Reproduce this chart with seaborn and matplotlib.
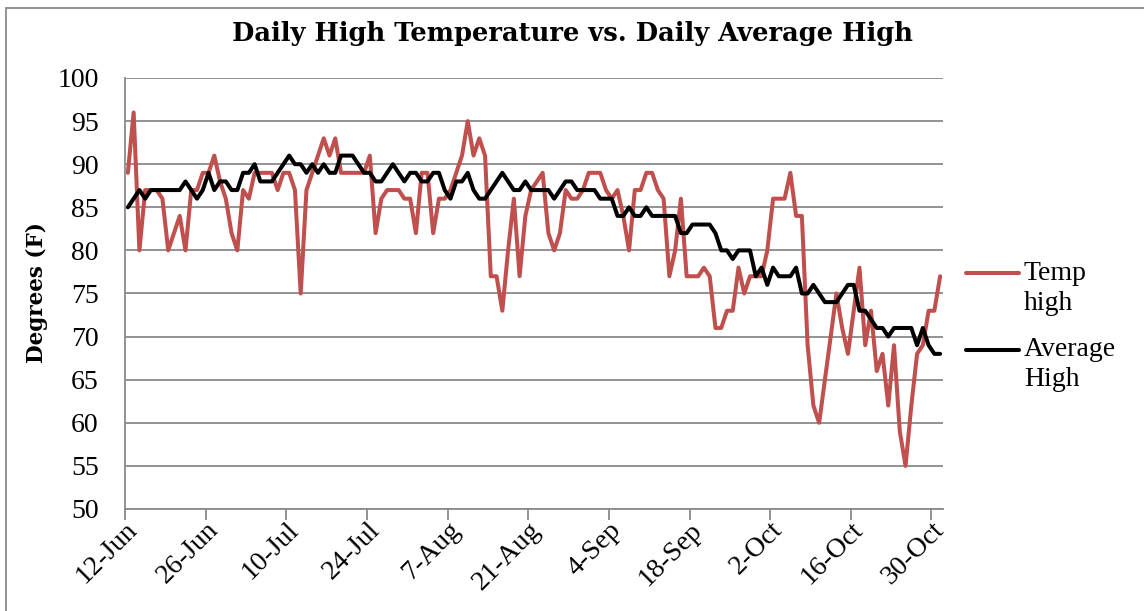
import pandas as pd
import numpy as np
import matplotlib
matplotlib.use("Agg")
import matplotlib.pyplot as plt
from matplotlib.lines import Line2D
from matplotlib.patches import Rectangle
import seaborn as sns

# 데이터
start_date = "2011-06-12"
temp_high = [
    89, 96, 80, 87, 87, 87, 86, 80, 82, 84,
    80, 87, 87, 89, 89, 91, 88, 86, 82, 80,
    87, 86, 89, 89, 89, 89, 87, 89, 89, 87,
    75, 87, 89, 91, 93, 91, 93, 89, 89, 89,
    89, 89, 91, 82, 86, 87, 87, 87, 86, 86,
    82, 89, 89, 82, 86, 86, 87, 89, 91, 95,
    91, 93, 91, 77, 77, 73, 80, 86, 77, 84,
    87, 88, 89, 82, 80, 82, 87, 86, 86, 87,
    89, 89, 89, 87, 86, 87, 84, 80, 87, 87,
    89, 89, 87, 86, 77, 80, 86, 77, 77, 77,
    78, 77, 71, 71, 73, 73, 78, 75, 77, 77,
    77, 80, 86, 86, 86, 89, 84, 84, 69, 62,
    60, 65, 70, 75, 71, 68, 73, 78, 69, 73,
    66, 68, 62, 69, 59, 55, 62, 68, 69, 73,
    73, 77,
]
avg_high = [
    85, 86, 87, 86, 87, 87, 87, 87, 87, 87,
    88, 87, 86, 87, 89, 87, 88, 88, 87, 87,
    89, 89, 90, 88, 88, 88, 89, 90, 91, 90,
    90, 89, 90, 89, 90, 89, 89, 91, 91, 91,
    90, 89, 89, 88, 88, 89, 90, 89, 88, 89,
    89, 88, 88, 89, 89, 87, 86, 88, 88, 89,
    87, 86, 86, 87, 88, 89, 88, 87, 87, 88,
    87, 87, 87, 87, 86, 87, 88, 88, 87, 87,
    87, 87, 86, 86, 86, 84, 84, 85, 84, 84,
    85, 84, 84, 84, 84, 84, 82, 82, 83, 83,
    83, 83, 82, 80, 80, 79, 80, 80, 80, 77,
    78, 76, 78, 77, 77, 77, 78, 75, 75, 76,
    75, 74, 74, 74, 75, 76, 76, 73, 73, 72,
    71, 71, 70, 71, 71, 71, 71, 69, 71, 69,
    68, 68,
]
series_keys = ["Temp high", "Average High"]
legend_labels = ["Temp\nhigh", "Average\nHigh"]
series_colors = ["#C0504D", "#000000"]
y_ticks = list(range(50, 101, 5))
tick_step_days = 14

title = "Daily High Temperature vs. Daily Average High"
y_label = "Degrees (F)"

# 데이터프레임 (Excel 날짜축: 점은 하루 칸의 가운데)
days = pd.date_range(start_date, periods=len(temp_high), freq="D")
df = pd.DataFrame({"date": days + pd.Timedelta(hours=12),
                   series_keys[0]: temp_high,
                   series_keys[1]: avg_high})
long_df = df.melt(id_vars="date", var_name="series", value_name="deg")

sns.set_theme(style="white")
plt.rcParams["font.family"] = ["Liberation Serif", "DejaVu Serif"]
plt.rcParams["text.color"] = "black"

W, H = 1144, 611
fig = plt.figure(figsize=(W / 100, H / 100), dpi=100)
ax = fig.add_axes([125 / W, (H - 509) / H, 818 / W, 431 / H])

sns.lineplot(data=long_df, x="date", y="deg", hue="series",
             hue_order=series_keys,
             palette=dict(zip(series_keys, series_colors)),
             linewidth=2.9, legend=False, ax=ax,
             solid_joinstyle="round", solid_capstyle="round")

grey = "#8a8a8a"
ax.set_ylim(y_ticks[0], y_ticks[-1])
ax.set_yticks(y_ticks)
ax.set_xlim(days[0], days[-1] + pd.Timedelta(days=1))
tick_days = days[::tick_step_days]
ax.set_xticks(tick_days)
ax.set_xticklabels([f"{d.day}-{d.strftime('%b')}" for d in tick_days],
                   rotation=45, ha="right", va="top", rotation_mode="anchor")
ax.set_xlabel("")
ax.set_ylabel("")

ax.yaxis.grid(True, color=grey, lw=1.3)
ax.xaxis.grid(False)
ax.set_axisbelow(True)
for s in ["top", "right"]:
    ax.spines[s].set_visible(False)
for s in ["left", "bottom"]:
    ax.spines[s].set_color(grey)
    ax.spines[s].set_linewidth(1.3)
ax.tick_params(axis="both", which="major", direction="out", length=8,
               width=1.3, color=grey, labelsize=20, labelcolor="black")
ax.tick_params(axis="y", pad=11)
ax.tick_params(axis="x", pad=-2, bottom=True)

# 제목, y축 이름
fig.text(0.5, 1 - 41 / H, title, ha="center", va="baseline",
         fontsize=18.5, fontweight="bold", family="DejaVu Serif")
fig.text(37 / W, 1 - 293 / H, y_label, ha="center", va="center",
         rotation=90, fontsize=15.5, fontweight="bold", family="DejaVu Serif")

# 범례
for i, (lab, col) in enumerate(zip(legend_labels, series_colors)):
    y0 = 273 + i * 77
    fig.add_artist(Line2D([966 / W, 1019 / W], [1 - y0 / H, 1 - y0 / H],
                          color=col, lw=2.9, transform=fig.transFigure))
    for j, part in enumerate(lab.split("\n")):
        fig.text(1024 / W, 1 - (y0 + j * 30) / H, part, ha="left",
                 va="center", fontsize=20)

# 차트 영역 테두리
fig.add_artist(Rectangle((6 / W, -0.1), 2, (H - 8) / H + 0.1,
                         transform=fig.transFigure, fill=False,
                         ec=grey, lw=1.3))

fig.savefig("out.png", dpi=100)
